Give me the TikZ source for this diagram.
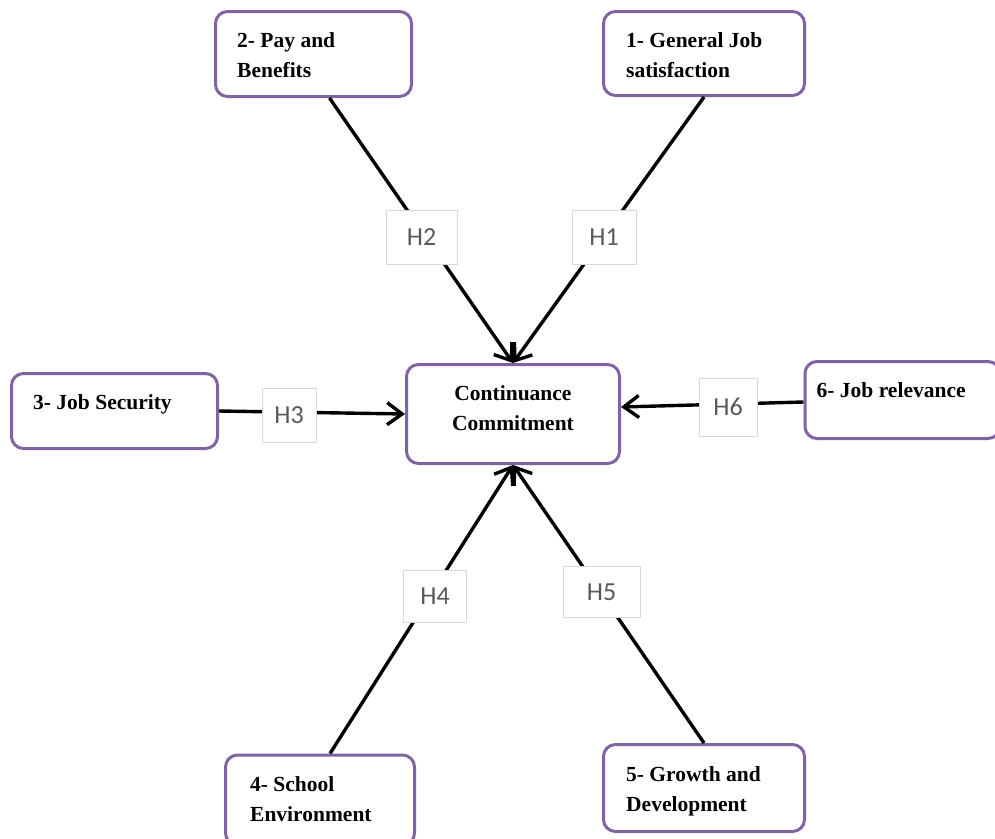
\documentclass[tikz,border=0pt]{standalone}
\usepackage{fontspec}
\setmainfont{Liberation Serif}
\newfontfamily\hfont{Carlito}
\usetikzlibrary{arrows.meta}
\definecolor{boxpurple}{HTML}{8064A2}
\definecolor{hgray}{HTML}{595959}
\definecolor{hborder}{HTML}{D9D9D9}
\begin{document}
\begin{tikzpicture}[x=1pt,y=-1pt,
 box/.style={draw=boxpurple, line width=3pt, rounded corners=12pt, fill=white, inner sep=0pt},
 btext/.style={font=\bfseries\fontsize{21.5}{30}\selectfont, align=left, inner sep=0pt},
 hbox/.style={draw=hborder, line width=0.8pt, fill=white, font=\hfont\fontsize{26}{30}\selectfont, text=hgray, inner sep=0pt},
 link/.style={line width=3.4pt, black, -{Straight Barb[length=15pt,width=22pt,line width=3.4pt]}}
]
\clip (0,0) rectangle (995,838);
% boxes
\node[box, minimum width=196pt, minimum height=85pt] (b2) at (313.5,54) {};
\node[box, minimum width=201pt, minimum height=84pt] (b1) at (704,53.5) {};
\node[box, minimum width=213pt, minimum height=99pt] (cc) at (513,414) {};
\node[box, minimum width=206pt, minimum height=75pt] (b3) at (114.5,411) {};
\node[box, minimum width=195pt, minimum height=77pt] (b6) at (902.5,400) {};
\node[box, minimum width=189pt, minimum height=90pt] (b4) at (320,800) {};
\node[box, minimum width=201pt, minimum height=87pt] (b5) at (704,788) {};
% texts
\node[btext, anchor=north west] (t2) at ([xshift=23pt,yshift=-22pt]b2.north west) {2- Pay and\\Benefits};
\node[btext, anchor=north west] (t1) at ([xshift=24pt,yshift=-22pt]b1.north west) {1- General Job\\satisfaction};
\node[btext, align=center] (tc) at (513,408) {Continuance\\Commitment};
\node[btext, anchor=north west] (t3) at ([xshift=23pt,yshift=-22pt]b3.north west) {3- Job Security};
\node[btext, anchor=north west] (t6) at ([xshift=13pt,yshift=-22pt]b6.north west) {6- Job relevance};
\node[btext, anchor=north west] (t4) at ([xshift=26pt,yshift=-23pt]b4.north west) {4- School\\Environment};
\node[btext, anchor=north west] (t5) at ([xshift=24pt,yshift=-23pt]b5.north west) {5- Growth and\\Development};
% connectors
\draw[link] ([xshift=16pt]b2.south) -- (cc.north);
\draw[link] (b1.south) -- (cc.north);
\draw[link] (b3.east) -- (cc.west);
\draw[link] ([yshift=-2pt]b6.west) -- ([yshift=7pt]cc.east);
\draw[link] ([xshift=10pt]b4.north) -- (cc.south);
\draw[link] (b5.north) -- (cc.south);
% hypothesis labels
\node[hbox, minimum width=71pt, minimum height=54pt] (h2) at (421.5,237) {H2};
\node[hbox, minimum width=64pt, minimum height=54pt] (h1) at (604,237) {H1};
\node[hbox, minimum width=54pt, minimum height=54pt] (h3) at (289,415) {H3};
\node[hbox, minimum width=58pt, minimum height=58pt] (h6) at (728,407) {H6};
\node[hbox, minimum width=63pt, minimum height=52pt] (h4) at (435,596) {H4};
\node[hbox, minimum width=77pt, minimum height=51pt] (h5) at (601.5,592) {H5};
\end{tikzpicture}
\end{document}
